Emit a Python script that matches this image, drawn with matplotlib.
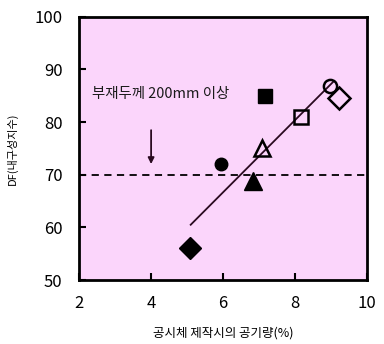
import matplotlib
matplotlib.use("Agg")
import matplotlib.pyplot as plt

plt.rcParams['font.family'] = ['Noto Sans CJK KR', 'DejaVu Sans']

# 공기량(%) / 내구성지수 데이터
filled_x = [5.08, 5.94, 6.83, 7.17]
filled_y = [56.0, 72.0, 68.8, 85.0]
filled_markers = ['D', 'o', '^', 's']

open_x = [7.08, 8.17, 8.97, 9.22]
open_y = [75.0, 81.0, 86.8, 84.6]
open_markers = ['^', 's', 'o', 'D']

# 회귀 직선 양 끝점
fit_x = [5.1, 9.05]
fit_y = [60.5, 87.6]

limit_df = 70
arrow_x = 4.0
arrow_y = [79, 71.5]
note_text = "부재두께 200mm 이상"

# 마커 모양별 크기
filled_size = {'D': 11.5, 'o': 9, '^': 13.5, 's': 10}
open_size = {'D': 11, 'o': 9.5, '^': 12, 's': 9.5}

fig = plt.figure(figsize=(3.84, 3.44), dpi=100)
ax = fig.add_axes([0.206, 0.186, 0.750, 0.765])
ax.set_facecolor('#fbd5fb')

ax.plot(fit_x, fit_y, color='#2a0a20', lw=1.3, zorder=2)
ax.axhline(limit_df, color='black', lw=1.3, ls=(0, (4, 3)), zorder=1)

for x, y, m in zip(filled_x, filled_y, filled_markers):
    ax.plot(x, y, marker=m, color='black', ms=filled_size[m], ls='none',
            zorder=3)

for x, y, m in zip(open_x, open_y, open_markers):
    ax.plot(x, y, marker=m, mfc='none', mec='black', mew=1.8,
            ms=open_size[m], ls='none', zorder=3)

ax.annotate('', xy=(arrow_x, arrow_y[1]), xytext=(arrow_x, arrow_y[0]),
            arrowprops=dict(arrowstyle='-|>', color='#2a0a20', lw=1.3,
                            mutation_scale=9))
ax.text(2.35, 85.4, note_text, fontsize=10.4, va='center', ha='left',
        color='#1a1a1a')

ax.set_xlim(2, 10)
ax.set_ylim(50, 100)
ax.set_xticks([2, 4, 6, 8, 10])
ax.set_yticks([50, 60, 70, 80, 90, 100])
ax.tick_params(direction='in', length=5, width=1.5, labelsize=12, pad=11,
               colors='black')
ax.tick_params(axis='y', pad=12)
for s in ax.spines.values():
    s.set_linewidth(2)

ax.set_xlabel("공시체 제작시의 공기량(%)", fontsize=9, labelpad=10)
ax.set_ylabel("DF(내구성지수)", fontsize=8, labelpad=12)

fig.savefig("out.png", dpi=100)
